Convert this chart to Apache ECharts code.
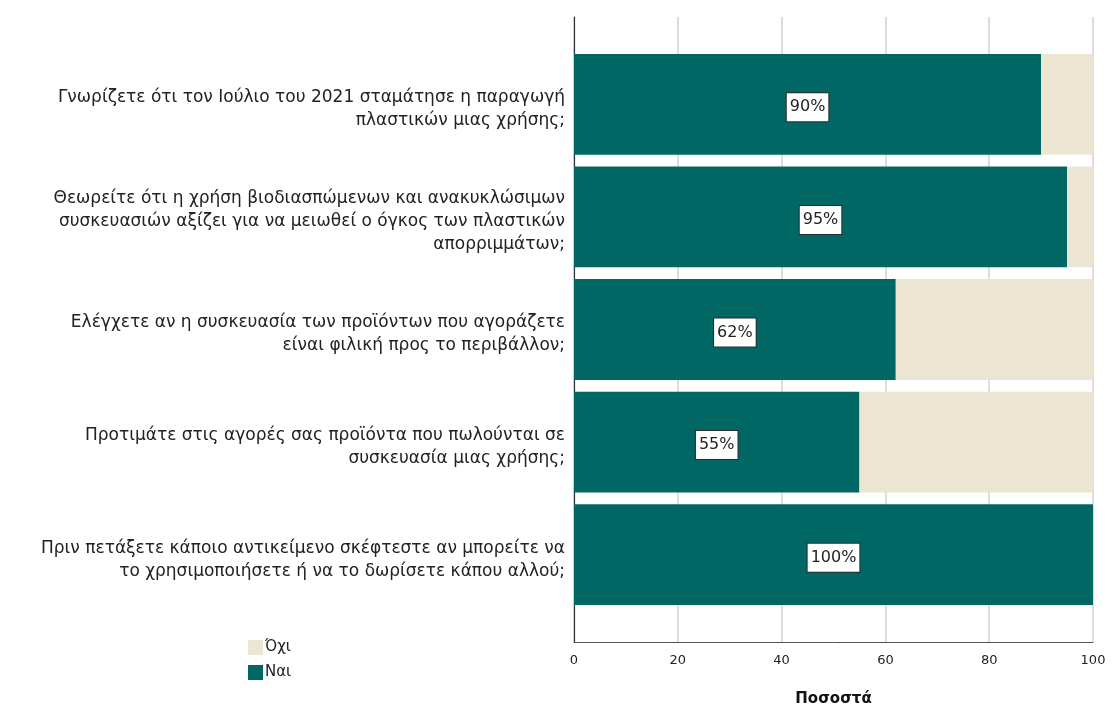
<!DOCTYPE html>
<html>
<head>
<meta charset="utf-8">
<script src="https://cdn.jsdelivr.net/npm/echarts@6/dist/echarts.min.js"></script>
<style>
  html, body { margin: 0; padding: 0; background: #ffffff; }
  #chart { width: 1118px; height: 704px; }
</style>
</head>
<body>
<div id="chart"></div>
<script>
// Survey questions (one per bar), with the line breaks used in the labels
const questions = [
  'Γνωρίζετε ότι τον Ιούλιο του 2021 σταμάτησε η παραγωγή\nπλαστικών μιας χρήσης;',
  'Θεωρείτε ότι η χρήση βιοδιασπώμενων και ανακυκλώσιμων\nσυσκευασιών αξίζει για να μειωθεί ο όγκος των πλαστικών\nαπορριμμάτων;',
  'Ελέγχετε αν η συσκευασία των προϊόντων που αγοράζετε\nείναι φιλική προς το περιβάλλον;',
  'Προτιμάτε στις αγορές σας προϊόντα που πωλούνται σε\nσυσκευασία μιας χρήσης;',
  'Πριν πετάξετε κάποιο αντικείμενο σκέφτεστε αν μπορείτε να\nτο χρησιμοποιήσετε ή να το δωρίσετε κάπου αλλού;'
];

// Percentage of answers per question
const yesValues = [90, 95, 62, 55, 100];
const noValues = [10, 5, 38, 45, 0];

const seriesNames = ['Όχι', 'Ναι'];
const xTicks = [0, 20, 40, 60, 80, 100];
const axisTitle = 'Ποσοστά';

const FONT = 'DejaVu Sans';
const TEAL = '#016764';
const BEIGE = '#ebe5d1';

const chart = echarts.init(document.getElementById('chart'), null, { renderer: 'canvas' });

chart.setOption({
  animation: false,
  backgroundColor: '#ffffff',
  textStyle: { fontFamily: FONT },
  legend: {
    orient: 'vertical',
    left: 248,
    top: 640,
    padding: 0,
    itemWidth: 15,
    itemHeight: 15,
    itemGap: 10,
    icon: 'rect',
    data: seriesNames,
    textStyle: { fontFamily: FONT, fontSize: 15, color: '#222', padding: [0, 0, 0, -3] }
  },
  grid: [
    // frame: gridlines and axis lines over the whole plot area
    { left: 574, right: 25, top: 17, bottom: 62, outerBoundsMode: 'none' },
    // bars
    { left: 574, right: 25, top: 48, bottom: 93, outerBoundsMode: 'none' },
    // question labels, set slightly lower than the bar centres
    { left: 574, right: 25, top: 53, bottom: 88, outerBoundsMode: 'none' }
  ],
  xAxis: [
    {
      gridIndex: 0,
      type: 'value',
      min: 0,
      max: 100,
      interval: 20,
      name: axisTitle,
      nameLocation: 'middle',
      nameGap: 50,
      nameTextStyle: { fontFamily: FONT, fontSize: 15, fontWeight: 'bold', color: '#111' },
      axisLine: { show: true, lineStyle: { color: '#555', width: 1 } },
      axisTick: { show: false },
      axisLabel: {
        margin: 12,
        fontFamily: FONT,
        fontSize: 13,
        color: '#222',
        formatter: v => xTicks.includes(v) ? String(v) : ''
      },
      splitLine: { show: true, lineStyle: { color: '#d2d2d2', width: 1.5 } }
    },
    { gridIndex: 1, type: 'value', min: 0, max: 100, show: false },
    { gridIndex: 2, type: 'value', min: 0, max: 100, show: false }
  ],
  yAxis: [
    {
      gridIndex: 0,
      type: 'value',
      min: 0,
      max: 1,
      axisLine: { show: true, onZero: false, lineStyle: { color: '#333', width: 1.2 } },
      axisTick: { show: false },
      axisLabel: { show: false },
      splitLine: { show: false }
    },
    {
      gridIndex: 1,
      type: 'category',
      inverse: true,
      data: questions,
      axisLine: { show: false },
      axisTick: { show: false },
      splitLine: { show: false },
      axisLabel: { show: false }
    },
    {
      gridIndex: 2,
      type: 'category',
      inverse: true,
      data: questions,
      axisLine: { show: false },
      axisTick: { show: false },
      splitLine: { show: false },
      axisLabel: {
        margin: 9,
        fontFamily: FONT,
        fontSize: 17,
        lineHeight: 23,
        color: '#222',
        align: 'right'
      }
    }
  ],
  series: [
    {
      name: 'Ναι',
      type: 'bar',
      stack: 'total',
      xAxisIndex: 1,
      yAxisIndex: 1,
      barCategoryGap: '10.5%',
      data: yesValues,
      itemStyle: { color: TEAL },
      label: {
        show: true,
        position: 'inside',
        offset: [0, 3],
        formatter: '{c}%',
        fontFamily: FONT,
        fontSize: 16,
        color: '#222',
        backgroundColor: '#ffffff',
        borderColor: '#2a2a2a',
        borderWidth: 1,
        padding: [7, 3, 5, 3]
      }
    },
    {
      name: 'Όχι',
      type: 'bar',
      stack: 'total',
      xAxisIndex: 1,
      yAxisIndex: 1,
      barCategoryGap: '10.5%',
      data: noValues,
      itemStyle: { color: BEIGE }
    }
  ]
});
</script>
</body>
</html>
